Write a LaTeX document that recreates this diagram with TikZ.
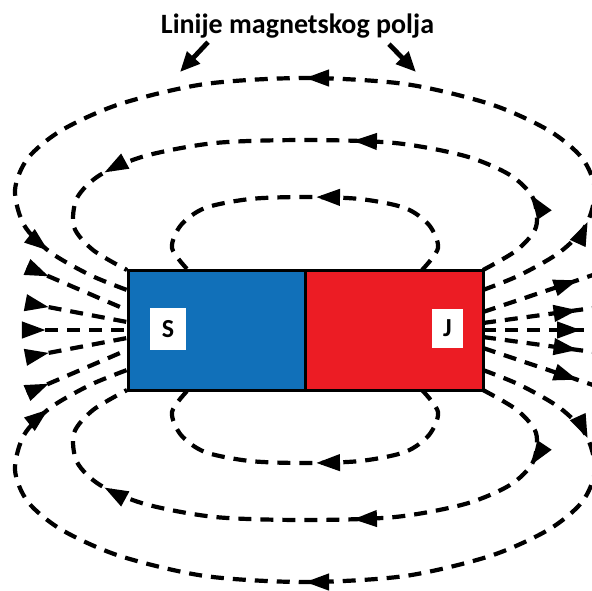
\documentclass[tikz,border=0pt]{standalone}
\usepackage{fontspec}
\setmainfont{Carlito}
\usetikzlibrary{arrows.meta,decorations.markings}
\definecolor{magblue}{RGB}{17,112,185}
\definecolor{magred}{RGB}{236,28,36}
\begin{document}
\begin{tikzpicture}[x=0.5pt,y=-0.5pt,
    field/.style={line width=2.1pt,dash pattern=on 6.5pt off 4.5pt},
    tip/.style={postaction={decorate,decoration={markings,mark=at position #1 with {\arrow{Triangle[length=12pt,width=8pt]}}}}},
    bar/.style={draw,line width=1.5pt,minimum height=60pt,inner sep=0pt},
    pole/.style={fill=white,inner sep=0pt,font=\bfseries\fontsize{13}{15}\selectfont},
    titlearrow/.style={line width=2.4pt,-{Triangle[length=10pt,width=8.5pt]}}]
    \useasboundingbox (0,0) rectangle (592,590);
    \begin{scope}[shift={(305,330)}]
    \foreach \s in {1,-1} {
    \begin{scope}[yscale=\s]
    \draw[field,tip=0.47] plot[smooth] coordinates {(117,-60) (133,-82) (124,-105) (100,-122) (55,-131) (0,-133) (-55,-131) (-100,-122) (-124,-105) (-133,-82) (-117,-60)};
    \draw[field,tip=0.15,tip=0.43,tip=0.8] plot[smooth] coordinates {(178,-60) (212,-80) (231,-103) (228,-132) (205,-155) (160,-174) (90,-187) (0,-190) (-90,-187) (-160,-174) (-205,-155) (-228,-132) (-231,-103) (-212,-80) (-178,-60)};
    \draw[field,tip=0.13,tip=0.5,tip=0.91] plot[smooth] coordinates {(178,-40) (215,-55) (255,-78) (281,-105) (290,-140) (277,-172) (243,-200) (185,-226) (100,-246) (0,-252) (-100,-246) (-185,-226) (-243,-200) (-277,-172) (-290,-140) (-281,-105) (-255,-78) (-215,-55) (-178,-40)};
    \draw[field,tip=0.22] (-278,-63) -- (-178,-20);
    \draw[field,tip=0.22] (-278,-27) -- (-178,-8);
    \draw[field,tip=0.86] (178,-18) -- (288,-55);
    \draw[field,tip=0.86] (178,-7) -- (288,-22);
    \end{scope}
    }
    \draw[field,tip=0.22] (-282,0) -- (-178,0);
    \draw[field,tip=0.86] (178,0) -- (292,0);
    \end{scope}
    \node[bar,fill=magblue,minimum width=88.5pt] (Sbar) at (216.5,330) {};
    \node[bar,fill=magred,minimum width=89pt] (Jbar) at (394,330) {};
    \node[pole,minimum width=18pt,minimum height=21pt] (S) at (168,329) {S};
    \node[pole,minimum width=15.5pt,minimum height=19.5pt] (J) at (447.5,328.5) {J};
    \node[inner sep=0pt,anchor=base,font=\bfseries\fontsize{14}{16}\selectfont] (title) at (297.5,33) {Linije magnetskog polja};
    \coordinate (lft) at (180,72);
    \coordinate (rgt) at (416,72);
    \draw[titlearrow] ([xshift=-44.75pt,yshift=-2pt]title.south) -- (lft);
    \draw[titlearrow] ([xshift=45.75pt,yshift=-3pt]title.south) -- (rgt);
\end{tikzpicture}
\end{document}
